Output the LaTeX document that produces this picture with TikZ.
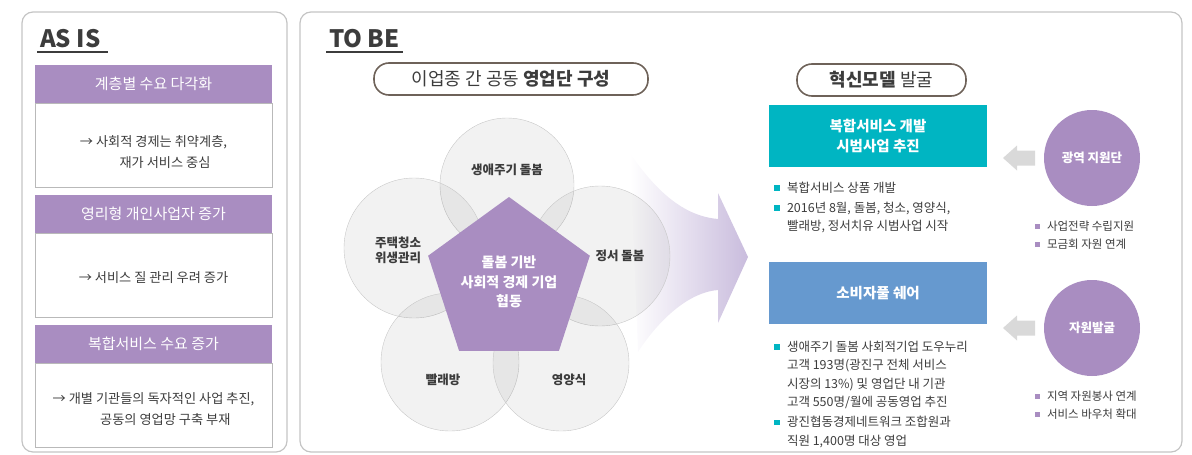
\documentclass[tikz,border=0pt]{standalone}
\usepackage{fontspec}
\setmainfont{Noto Sans CJK KR}
\usetikzlibrary{positioning,shapes.geometric}

\definecolor{mauve}{HTML}{A98DC1}
\definecolor{tealc}{HTML}{00B5C2}
\definecolor{bluec}{HTML}{6699CF}
\definecolor{ink}{HTML}{3C3C3C}
\definecolor{pillbrown}{HTML}{6E6259}
\definecolor{panelgray}{HTML}{C4C4C4}
\definecolor{arrowgray}{HTML}{D9D9D9}
\definecolor{arrowmauve}{HTML}{C9BCDD}

\newcommand{\tsq}{\makebox[13pt][l]{\textcolor{tealc}{\rule[1.5pt]{5.5pt}{5.5pt}}}}
\newcommand{\msq}{\makebox[12pt][l]{\textcolor{mauve}{\rule[1.5pt]{5pt}{5pt}}}}
\newcommand{\ind}{\hspace*{13pt}}
\newcommand{\lowr}[1]{\rule{0pt}{#1}}

\begin{document}
\begin{tikzpicture}[x=1pt,y=-1pt,
    every node/.style={outer sep=0pt,text=ink},
    panel/.style={draw=panelgray,line width=1.2pt,rounded corners=11pt,minimum width=#1,minimum height=440},
    bigtitle/.style={font=\fontsize{24}{24}\selectfont\bfseries,inner sep=0pt,anchor=base west},
    uline/.style={line width=1.6pt,ink},
    hdr/.style={fill=mauve,text=white,minimum width=237,minimum height=38,font=\fontsize{15}{18}\selectfont},
    bodybox/.style={draw=gray!55,minimum width=237,minimum height=84,align=left,font=\fontsize{13.2}{21}\selectfont},
    pill/.style={draw=pillbrown,line width=1.6pt,rounded corners=15pt,minimum height=32,font=\fontsize{18}{20}\selectfont},
    petal/.style={circle,draw=black!22,fill=black,fill opacity=0.05,minimum size=#1},
    petaltext/.style={text opacity=1,fill opacity=1,align=center,font=\fontsize{12.5}{15}\selectfont\bfseries},
    pent/.style={regular polygon,regular polygon sides=5,minimum size=170,inner sep=0pt,fill=mauve,text=white,align=center,font=\fontsize{14}{19.5}\selectfont\bfseries},
    model/.style={fill=#1,text=white,minimum width=218,minimum height=62,align=center,font=\fontsize{14.5}{20}\selectfont\bfseries},
    hub/.style={circle,fill=mauve,text=white,minimum size=96,font=\fontsize{12.5}{15}\selectfont\bfseries},
    list/.style={inner sep=0pt,align=left,anchor=north west,font=\fontsize{12.5}{18.5}\selectfont},
    sublist/.style={inner sep=0pt,align=left,anchor=north west,font=\fontsize{11.5}{18}\selectfont}]

\useasboundingbox (0,0) rectangle (1192,455);

% AS IS
\node[panel=265] (asis) at (154.5,232) {};
\node[bigtitle] (asistitle) at (40,47) {AS IS};
\draw[uline] ([shift={(-3pt,-5pt)}]asistitle.base west) -- ([shift={(8pt,-5pt)}]asistitle.base east);

\node[hdr] (h1) at (153.5,84) {계층별 수요 다각화};
\node[bodybox,below=0pt of h1] (b1) {\lowr{25pt}→ 사회적 경제는 취약계층,\\\hspace*{3em}재가 서비스 중심};
\node[hdr,below=8pt of b1] (h2) {영리형 개인사업자 증가};
\node[bodybox,below=0pt of h2] (b2) {\lowr{17pt}→\ 서비스 질 관리 우려 증가};
\node[hdr,below=8pt of b2] (h3) {복합서비스 수요 증가};
\node[bodybox,below=0pt of h3] (b3) {\lowr{20pt}→ 개별 기관들의 독자적인 사업 추진,\\\hspace*{3.6em}공동의 영업망 구축 부재};

% TO BE
\node[panel=882] (tobe) at (741,232) {};
\node[bigtitle] (tobetitle) at (329,47) {TO BE};
\draw[uline] ([shift={(-3pt,-5pt)}]tobetitle.base west) -- ([shift={(3pt,-5pt)}]tobetitle.base east);

\node[pill,minimum width=274] (team) at (511,79) {이업종 간 공동 \textbf{영업단 구성}};
\node[pill,minimum width=169] (find) at (881.5,80) {\textbf{혁신모델} 발굴};

\shade[left color=white,right color=arrowmauve]
  (630,153) .. controls (665,205) and (695,217) .. (718,219) -- (718,193) -- (748,257)
  -- (718,323) -- (718,290) .. controls (690,292) and (660,318) .. (638,352) -- cycle;

\node[petal=134,label={[petaltext,yshift=15pt]center:생애주기 돌봄}] (care) at (507,185) {};
\node[petal=140,label={[petaltext,xshift=-16pt,yshift=-2pt]center:주택청소\\위생관리}] (clean) at (414,248) {};
\node[petal=140,label={[petaltext,xshift=20pt]center:정서 돌봄}] (mind) at (600,256) {};
\node[petal=138,label={[petaltext,xshift=-7pt,yshift=-18pt]center:빨래방}] (laundry) at (450,362) {};
\node[petal=136,label={[petaltext,xshift=8pt,yshift=-17pt]center:영양식}] (meal) at (561,363) {};

\node[pent] (core) at (509,282) {돌봄 기반\\사회적 경제 기업\\협동};

% models
\node[model=tealc] (pilot) at (878,136) {복합서비스 개발\\시범사업 추진};
\node[model=bluec] (share) at (878,293) {소비자풀 쉐어};

\node[list] (pilotlist) at (774,182) {\tsq 복합서비스 상품 개발\\[1.5pt]\tsq 2016년 8월, 돌봄, 청소, 영양식,\\\ind 빨래방, 정서치유 시범사업 시작};
\node[list] (sharelist) at (774,341) {\tsq 생애주기 돌봄 사회적기업 도우누리\\\ind 고객 193명(광진구 전체 서비스\\\ind 시장의 13\%) 및 영업단 내 기관\\\ind 고객 550명/월에 공동영업 추진\\[1.5pt]\tsq 광진협동경제네트워크 조합원과\\\ind 직원 1,400명 대상 영업};

\node[hub] (wide) at (1092,158) {광역 지원단};
\node[hub] (source) at (1092,328) {자원발굴};

\fill[arrowgray] ([xshift=-41pt]wide.center) ++(-48,0) -- ++(14,-12.5) -- ++(0,5) -- ++(18,0) -- ++(0,15) -- ++(-18,0) -- ++(0,5) -- cycle;
\fill[arrowgray] ([xshift=-41pt]source.center) ++(-48,0) -- ++(14,-12.5) -- ++(0,5) -- ++(18,0) -- ++(0,15) -- ++(-18,0) -- ++(0,5) -- cycle;

\node[sublist] (widelist) at (1035,221) {\msq 사업전략 수립지원\\\msq 모금회 자원 연계};
\node[sublist] (sourcelist) at (1035,391) {\msq 지역 자원봉사 연계\\\msq 서비스 바우처 확대};
\end{tikzpicture}
\end{document}
